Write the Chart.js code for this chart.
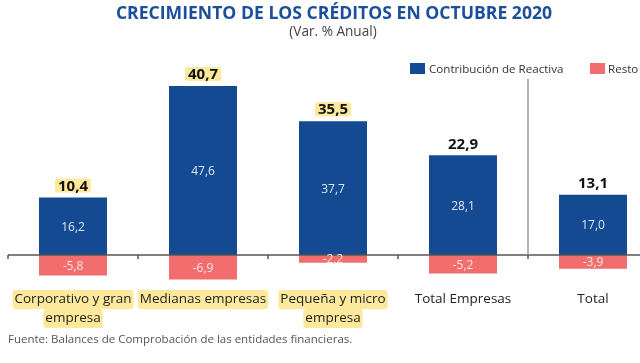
<!DOCTYPE html>
<html>
<head>
<meta charset="utf-8">
<script src="https://cdn.jsdelivr.net/npm/chart.js@4.4.1/dist/chart.umd.min.js"></script>
<style>
  body { margin: 0; width: 640px; height: 363px; overflow: hidden; position: relative; background: #fff; font-family: "Open Sans", sans-serif; }
  #wrap { position: absolute; left: 0; top: 0; width: 660px; height: 363px; }
  .t { position: absolute; white-space: nowrap; }
  #title { left: 0; width: 668px; top: 0px; text-align: center; font-weight: bold; font-size: 17.6px; color: #1b4f9c; }
  #sub { left: 0; width: 666px; top: 21px; text-align: center; font-size: 13.6px; color: #444; }
  .box { position: absolute; width: 15px; height: 11px; }
  .leg { font-size: 11.6px; color: #333; top: 61px; }
  #foot { left: 8px; top: 331px; font-size: 11.5px; color: #555; }
</style>
</head>
<body>
<div id="wrap"><canvas id="chart" width="660" height="363"></canvas></div>
<div class="t" id="title">CRECIMIENTO DE LOS CRÉDITOS EN OCTUBRE 2020</div>
<div class="t" id="sub">(Var. % Anual)</div>
<div class="box" style="left:410px;top:63px;background:#134a92"></div>
<div class="t leg" style="left:429px">Contribución de Reactiva</div>
<div class="box" style="left:590px;top:63px;background:#f26d6d"></div>
<div class="t leg" style="left:608px">Resto</div>
<div class="t" id="foot">Fuente: Balances de Comprobación de las entidades financieras.</div>
<script>
// Categories (multi-line labels) and which ones get the yellow highlight
const categories = [
  ["Corporativo y gran", "empresa"],
  ["Medianas empresas"],
  ["Pequeña y micro", "empresa"],
  ["Total Empresas"],
  ["Total"]
];
const highlighted = [true, true, true, false, false];
// Series values
const reactiva = [16.2, 47.6, 37.7, 28.1, 17.0];
const resto = [-5.8, -6.9, -2.2, -5.2, -3.9];
const totals = [10.4, 40.7, 35.5, 22.9, 13.1];

const blue = "#134a92";
const red = "#f26d6d";
const yellow = "#fce99b";

function fmt(v) {
  return v.toFixed(1).replace(".", ",");
}

// draws the highlight box behind a text
function hlBox(ctx, x, y, w, h) {
  ctx.fillStyle = yellow;
  ctx.beginPath();
  ctx.roundRect(x, y, w, h, 3);
  ctx.fill();
}

const labelsPlugin = {
  id: "labelsPlugin",
  afterDatasetsDraw(chart) {
    const ctx = chart.ctx;
    const xs = chart.scales.x;
    const ys = chart.scales.y;
    const area = chart.chartArea;
    const y0 = ys.getPixelForValue(0);
    const step = xs.getPixelForValue(1) - xs.getPixelForValue(0);

    ctx.save();
    // zero line
    ctx.strokeStyle = "#555";
    ctx.lineWidth = 1.5;
    ctx.beginPath();
    ctx.moveTo(area.left, y0);
    ctx.lineTo(area.right, y0);
    ctx.stroke();
    // tick marks on category boundaries
    for (let i = 0; i < categories.length; i++) {
      const bx = xs.getPixelForValue(i) - step / 2;
      ctx.beginPath();
      ctx.moveTo(bx, y0);
      ctx.lineTo(bx, y0 + 4);
      ctx.stroke();
    }
    // separator before "Total"
    const sx = xs.getPixelForValue(4) - step / 2;
    ctx.strokeStyle = "#999";
    ctx.beginPath();
    ctx.moveTo(sx, area.top + 1.5);
    ctx.lineTo(sx, y0);
    ctx.stroke();

    // values inside the bars
    ctx.textAlign = "center";
    ctx.textBaseline = "middle";
    ctx.font = "12px 'Open Sans'";
    chart.data.datasets.forEach((ds, d) => {
      const meta = chart.getDatasetMeta(d);
      ctx.fillStyle = d === 0 ? "#dce7f6" : "#fde4e4";
      meta.data.forEach((el, i) => {
        ctx.fillText(fmt(ds.data[i]), el.x, (el.y + el.base) / 2 + 1);
      });
    });

    // totals above the bars
    ctx.font = "bold 15px 'Open Sans'";
    const top = chart.getDatasetMeta(0).data;
    top.forEach((el, i) => {
      const txt = fmt(totals[i]);
      const ty = el.y - 12;
      if (highlighted[i]) {
        const w = ctx.measureText(txt).width + 6;
        hlBox(ctx, el.x - w / 2, ty - 7, w, 14);
      }
      ctx.fillStyle = "#111";
      ctx.fillText(txt, el.x, ty + 1);
    });

    // category labels
    ctx.font = "13.5px 'Open Sans'";
    categories.forEach((lines, i) => {
      const cx = xs.getPixelForValue(i);
      lines.forEach((line, j) => {
        const ly = 299 + j * 19;
        if (highlighted[i]) {
          const w = ctx.measureText(line).width + 4;
          hlBox(ctx, cx - w / 2, ly - 9, w, 19);
        }
        ctx.fillStyle = "#222";
        ctx.fillText(line, cx, ly);
      });
    });
    ctx.restore();
  }
};

new Chart("chart", {
  type: "bar",
  data: {
    labels: categories.map((c) => c.join(" ")),
    datasets: [
      { label: "Contribución de Reactiva", data: reactiva, backgroundColor: blue },
      { label: "Resto", data: resto, backgroundColor: red }
    ]
  },
  options: {
    responsive: false,
    devicePixelRatio: 1,
    animation: false,
    layout: { padding: { left: 8, right: 2, top: 77.5, bottom: 72.5 } },
    datasets: { bar: { barPercentage: 0.523, categoryPercentage: 1 } },
    plugins: {
      legend: { display: false },
      tooltip: { enabled: false }
    },
    scales: {
      x: { stacked: true, display: false },
      y: { stacked: true, display: false, min: -10, max: 50 }
    }
  },
  plugins: [labelsPlugin]
});
</script>
</body>
</html>
